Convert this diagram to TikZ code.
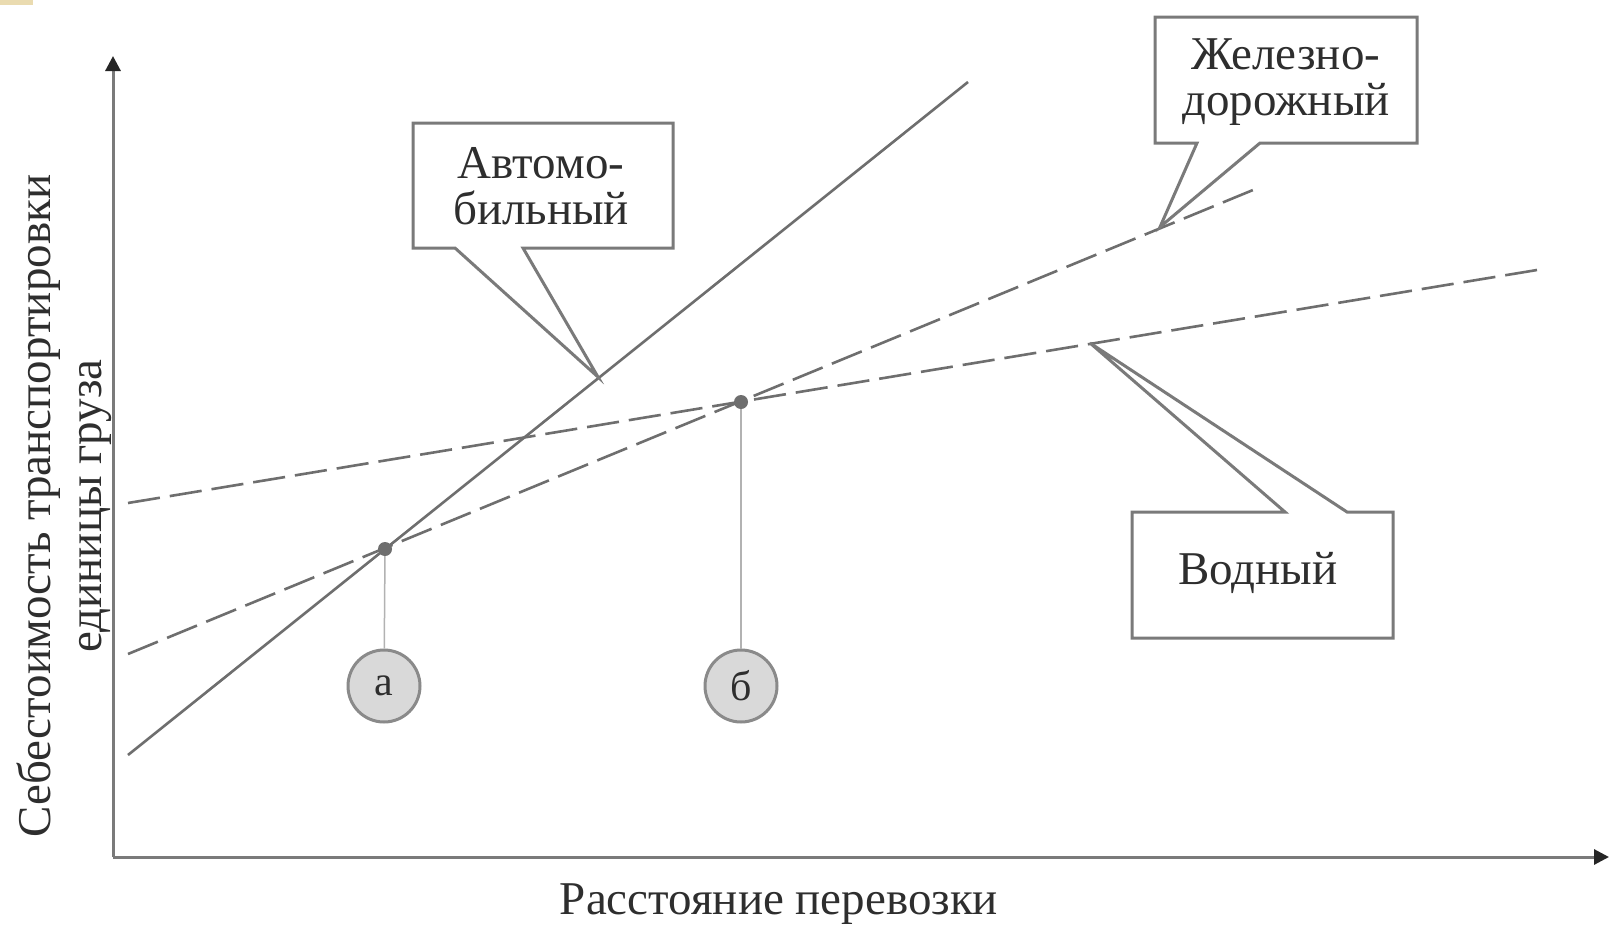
\documentclass[tikz,border=0pt]{standalone}
\usepackage{fontspec}
\setmainfont{Liberation Serif}
\usetikzlibrary{arrows.meta}
\definecolor{ln}{HTML}{6E6E6E}
\definecolor{ax}{HTML}{7A7A7A}
\definecolor{txt}{HTML}{2E2E2E}
\definecolor{cfill}{HTML}{D9D9D9}
\definecolor{cedge}{HTML}{8A8A8A}
\definecolor{beige}{HTML}{EADBB0}
\tikzset{
  axisline/.style={draw=ax, line width=3pt, -{Triangle[length=15pt,width=15pt,color=black!85]}},
  solidline/.style={draw=ln, line width=2.6pt},
  dashline/.style={draw=ln, line width=2.6pt, dash pattern=on 32.3pt off 10pt},
  dropline/.style={draw=gray!60, line width=1.5pt},
  callout/.style={draw=ax, line width=3pt, line join=miter},
  lbl/.style={text=txt, font=\fontsize{47}{46}\selectfont, align=center, inner sep=0pt},
  axlbl/.style={text=txt, font=\fontsize{47}{51}\selectfont, align=center, inner sep=0pt},
  marker/.style={circle, fill=ln, minimum size=14pt, inner sep=0pt},
  badge/.style={circle, draw=cedge, fill=cfill, line width=3pt, minimum size=72pt, inner sep=0pt, text=txt, font=\fontsize{42}{42}\selectfont}
}
\begin{document}
\begin{tikzpicture}[x=1pt,y=-1pt]
\useasboundingbox (0,0) rectangle (1610,926);
\fill[white] (0,0) rectangle (1610,926);
\fill[beige] (0,0) rectangle (33,5);

% axes
\coordinate (O) at (113,857);
\coordinate (ytop) at (113,56);
\coordinate (xend) at (1609,857);
\draw[axisline] (O) -- (ytop);
\draw[axisline] (O) -- (xend);

% lines
\coordinate (A1) at (128,755); \coordinate (A2) at (968,82);
\coordinate (W1) at (128,503); \coordinate (W2) at (1537,270);
\coordinate (R1) at (128,654); \coordinate (R2) at (1253,190);
\draw[solidline] (A1) -- (A2);
\draw[dashline] (W1) -- (W2);
\draw[dashline] (R1) -- (R2);

% intersection points and badges
\node[marker] (pa) at (385,549) {};
\node[marker] (pb) at (741,402) {};
\node[badge] (ca) at (384,686) {а};
\node[badge] (cb) at (741,686) {б};
\draw[dropline] (pa) -- (ca);
\draw[dropline] (pb) -- (cb);

% callout: Автомобильный
\coordinate (ta) at (598,377);
\draw[callout] (413,123) -- (673,123) -- (673,248) -- (523,248) -- (ta) -- (455,248) -- (413,248) -- cycle;
\node[lbl] (auto) at (541,186) {Автомо-\\бильный};

% callout: Железнодорожный
\coordinate (tr) at (1160,227);
\draw[callout] (1155,17) -- (1417,17) -- (1417,143) -- (1260,143) -- (tr) -- (1197,143) -- (1155,143) -- cycle;
\node[lbl] (rail) at (1286,82) {Железно-\\дорожный};

% callout: Водный
\coordinate (tw) at (1090,343);
\draw[callout] (1132,512) -- (1285,512) -- (tw) -- (1347,512) -- (1393,512) -- (1393,638) -- (1132,638) -- cycle;
\node[lbl] (water) at (1258,573) {Водный};

% axis labels
\node[axlbl] (xl) at (779,904) {Расстояние перевозки};
\node[axlbl, rotate=90] (yl) at (64,506) {Себестоимость транспортировки\\единицы груза};
\end{tikzpicture}
\end{document}
